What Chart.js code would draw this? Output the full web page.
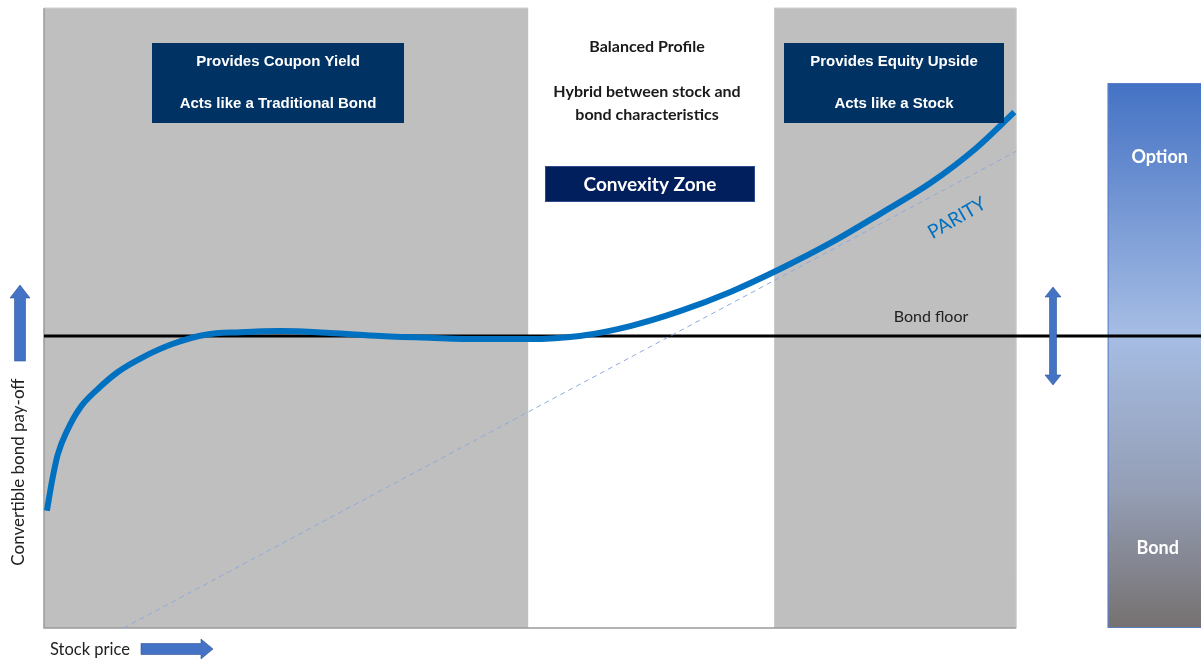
<!DOCTYPE html>
<html>
<head>
<meta charset="utf-8">
<title>Convertible bond pay-off</title>
<script src="https://cdn.jsdelivr.net/npm/chart.js@4"></script>
<style>
  html, body { margin: 0; padding: 0; background: #fff; }
  #chart-container { width: 1201px; height: 660px; }
</style>
</head>
<body>
<div id="chart-container"><canvas id="payoff" width="1201" height="660"></canvas></div>
<script>
// Convertible bond pay-off vs stock price
const stockPrice = [0.3, 0.8, 1.4, 2.4, 3.7, 5.5, 7.6, 10.2, 13.2, 16.6, 20.2, 24.3, 29.4, 34.6, 39.7, 44.9, 49.8, 55.1, 60.3, 65.4, 70.6, 75.7, 80.9, 86.0, 91.2, 95.8, 99.8];
const payoff     = [18.9, 23.5, 27.9, 31.9, 35.5, 38.5, 41.3, 43.7, 45.8, 47.3, 47.7, 47.9, 47.6, 47.1, 46.8, 46.6, 46.6, 47.1, 48.7, 51.1, 54.2, 57.9, 62.1, 66.8, 71.8, 77.3, 83.2];

// Parity line (dashed) and bond floor
const parityX = [8.2, 100];
const parityY = [0, 76.9];
const floorX = [0, 119];
const floorY = [47.1, 47.1];

// Zones along the stock price axis
const zoneEdges = [0, 49.8, 75.1, 100];
const zoneShaded = [true, false, true];

// Right hand bar (bond / option split)
const barRange = [109.4, 119];
const barTop = 87.9;

const toPoints = (xs, ys) => xs.map((x, i) => ({ x: x, y: ys[i] }));

function arrow(ctx, x1, y1, x2, y2, shaft, head, headLen, both) {
    const ang = Math.atan2(y2 - y1, x2 - x1);
    const len = Math.hypot(x2 - x1, y2 - y1);
    ctx.save();
    ctx.translate(x1, y1);
    ctx.rotate(ang);
    ctx.beginPath();
    const s = shaft / 2, h = head / 2;
    const start = both ? headLen : 0;
    ctx.moveTo(start, -s);
    ctx.lineTo(len - headLen, -s);
    ctx.lineTo(len - headLen, -h);
    ctx.lineTo(len, 0);
    ctx.lineTo(len - headLen, h);
    ctx.lineTo(len - headLen, s);
    ctx.lineTo(start, s);
    if (both) {
        ctx.lineTo(start, h);
        ctx.lineTo(0, 0);
        ctx.lineTo(start, -h);
    }
    ctx.closePath();
    ctx.fillStyle = '#4472c4';
    ctx.fill();
    ctx.strokeStyle = '#2f5597';
    ctx.lineWidth = 0.6;
    ctx.stroke();
    ctx.restore();
}

function textBox(ctx, x, y, w, h, color) {
    ctx.fillStyle = color;
    ctx.fillRect(x, y, w, h);
}

const backdrop = {
    id: 'backdrop',
    beforeDatasetsDraw(chart) {
        const ctx = chart.ctx;
        const xs = chart.scales.x, ys = chart.scales.y;
        const top = chart.chartArea.top, bottom = chart.chartArea.bottom;
        ctx.save();
        for (let i = 0; i < zoneShaded.length; i++) {
            if (!zoneShaded[i]) continue;
            const a = xs.getPixelForValue(zoneEdges[i]);
            const b = xs.getPixelForValue(zoneEdges[i + 1]);
            ctx.fillStyle = '#bfbfbf';
            ctx.fillRect(a, top, b - a, bottom - top);
        }
        // frame edges
        const left = xs.getPixelForValue(zoneEdges[0]);
        const right = xs.getPixelForValue(zoneEdges[zoneEdges.length - 1]);
        ctx.strokeStyle = '#9a9a9a';
        ctx.lineWidth = 1.5;
        ctx.beginPath();
        ctx.moveTo(left, top);
        ctx.lineTo(left, bottom);
        ctx.lineTo(right, bottom);
        ctx.stroke();
        ctx.strokeStyle = '#d0d0d0';
        ctx.lineWidth = 1;
        ctx.beginPath();
        ctx.moveTo(left, top);
        ctx.lineTo(xs.getPixelForValue(zoneEdges[1]), top);
        ctx.moveTo(xs.getPixelForValue(zoneEdges[2]), top);
        ctx.lineTo(right, top);
        ctx.lineTo(right, bottom);
        ctx.stroke();

        // gradient bar
        const bx = xs.getPixelForValue(barRange[0]);
        const bw = xs.getPixelForValue(barRange[1]) - bx;
        const by = ys.getPixelForValue(barTop);
        const bb = ys.getPixelForValue(0);
        const g = ctx.createLinearGradient(0, by, 0, bb);
        g.addColorStop(0, '#4472c4');
        g.addColorStop(0.46, '#a6bde4');
        g.addColorStop(0.75, '#949eb5');
        g.addColorStop(1, '#767171');
        ctx.fillStyle = g;
        ctx.fillRect(bx, by, bw, bb - by);
        ctx.strokeStyle = '#5b7fc7';
        ctx.lineWidth = 1;
        ctx.strokeRect(bx + 0.5, by + 0.5, bw, bb - by - 1);
        ctx.fillStyle = '#ffffff';
        ctx.font = 'bold 18px Lato, "Open Sans", sans-serif';
        ctx.textAlign = 'center';
        ctx.textBaseline = 'middle';
        ctx.fillText('Option', bx + 52, 157);
        ctx.fillText('Bond', bx + 50, 548);
        ctx.restore();
    },
    afterDatasetsDraw(chart) {
        const ctx = chart.ctx;
        ctx.save();
        ctx.textAlign = 'center';
        ctx.textBaseline = 'middle';

        // navy boxes
        textBox(ctx, 152, 43, 252, 80, '#013264');
        textBox(ctx, 784, 43, 220, 80, '#013264');
        ctx.fillStyle = '#ffffff';
        ctx.font = 'bold 15px "Liberation Sans", Arial, sans-serif';
        ctx.fillText('Provides Coupon Yield', 278, 62);
        ctx.fillText('Acts like a Traditional Bond', 278, 104);
        ctx.fillText('Provides Equity Upside', 894, 62);
        ctx.fillText('Acts like a Stock', 894, 104);

        // balanced profile
        ctx.fillStyle = '#1a1a1a';
        ctx.font = 'bold 16px Lato, sans-serif';
        ctx.fillText('Balanced Profile', 647, 47);
        ctx.fillText('Hybrid between stock and', 647, 92);
        ctx.fillText('bond characteristics', 647, 115);

        textBox(ctx, 545, 166, 210, 36, '#021f5d');
        ctx.strokeStyle = '#2e4a8a';
        ctx.lineWidth = 1;
        ctx.strokeRect(545.5, 166.5, 209, 35);
        ctx.fillStyle = '#ffffff';
        ctx.font = 'bold 19px Lato, sans-serif';
        ctx.fillText('Convexity Zone', 650, 185);

        // parity label
        ctx.save();
        ctx.translate(957, 218);
        ctx.rotate(-30 * Math.PI / 180);
        ctx.fillStyle = '#0070c0';
        ctx.font = '19px Lato, sans-serif';
        ctx.fillText('PARITY', 0, 0);
        ctx.restore();

        // bond floor label
        ctx.fillStyle = '#222222';
        ctx.font = '16px Lato, sans-serif';
        ctx.fillText('Bond floor', 931, 317);

        // axis titles
        ctx.fillStyle = '#222222';
        ctx.font = '16.5px Lato, sans-serif';
        ctx.textAlign = 'left';
        ctx.fillText('Stock price', 50, 650);
        ctx.save();
        ctx.translate(19, 472);
        ctx.rotate(-Math.PI / 2);
        ctx.textAlign = 'center';
        ctx.font = '17px Lato, sans-serif';
        ctx.fillText('Convertible bond pay-off', 0, 0);
        ctx.restore();

        // arrows
        arrow(ctx, 20, 361, 20, 285, 11, 20, 13, false);
        arrow(ctx, 141, 649, 213, 649, 11, 20, 12, false);
        arrow(ctx, 1053, 385, 1053, 287, 7, 16, 10, true);
        ctx.restore();
    }
};

function initChart() {
    const canvas = document.getElementById('payoff');
    const ctx = canvas.getContext('2d');
    return new Chart(ctx, {
        type: 'line',
        data: {
            datasets: [
                {
                    label: 'Convertible bond',
                    data: toPoints(stockPrice, payoff),
                    borderColor: '#0070c0',
                    borderWidth: 6,
                    borderCapStyle: 'butt',
                    borderJoinStyle: 'round',
                    cubicInterpolationMode: 'monotone',
                    pointRadius: 0,
                    fill: false,
                    order: 0
                },
                {
                    label: 'Parity',
                    data: toPoints(parityX, parityY),
                    borderColor: '#8faadc',
                    borderWidth: 1,
                    borderDash: [5, 4],
                    pointRadius: 0,
                    fill: false,
                    order: 1
                },
                {
                    label: 'Bond floor',
                    data: toPoints(floorX, floorY),
                    borderColor: '#000000',
                    borderWidth: 3,
                    pointRadius: 0,
                    fill: false,
                    order: 2
                }
            ]
        },
        options: {
            responsive: false,
            animation: false,
            devicePixelRatio: 1,
            layout: { padding: { left: 44, right: 0, top: 8, bottom: 32 } },
            plugins: {
                legend: { display: false },
                tooltip: { enabled: false }
            },
            scales: {
                x: { type: 'linear', min: 0, max: 119, display: false },
                y: { type: 'linear', min: 0, max: 100, display: false }
            }
        },
        plugins: [backdrop]
    });
}

document.addEventListener('DOMContentLoaded', initChart);
</script>
</body>
</html>
